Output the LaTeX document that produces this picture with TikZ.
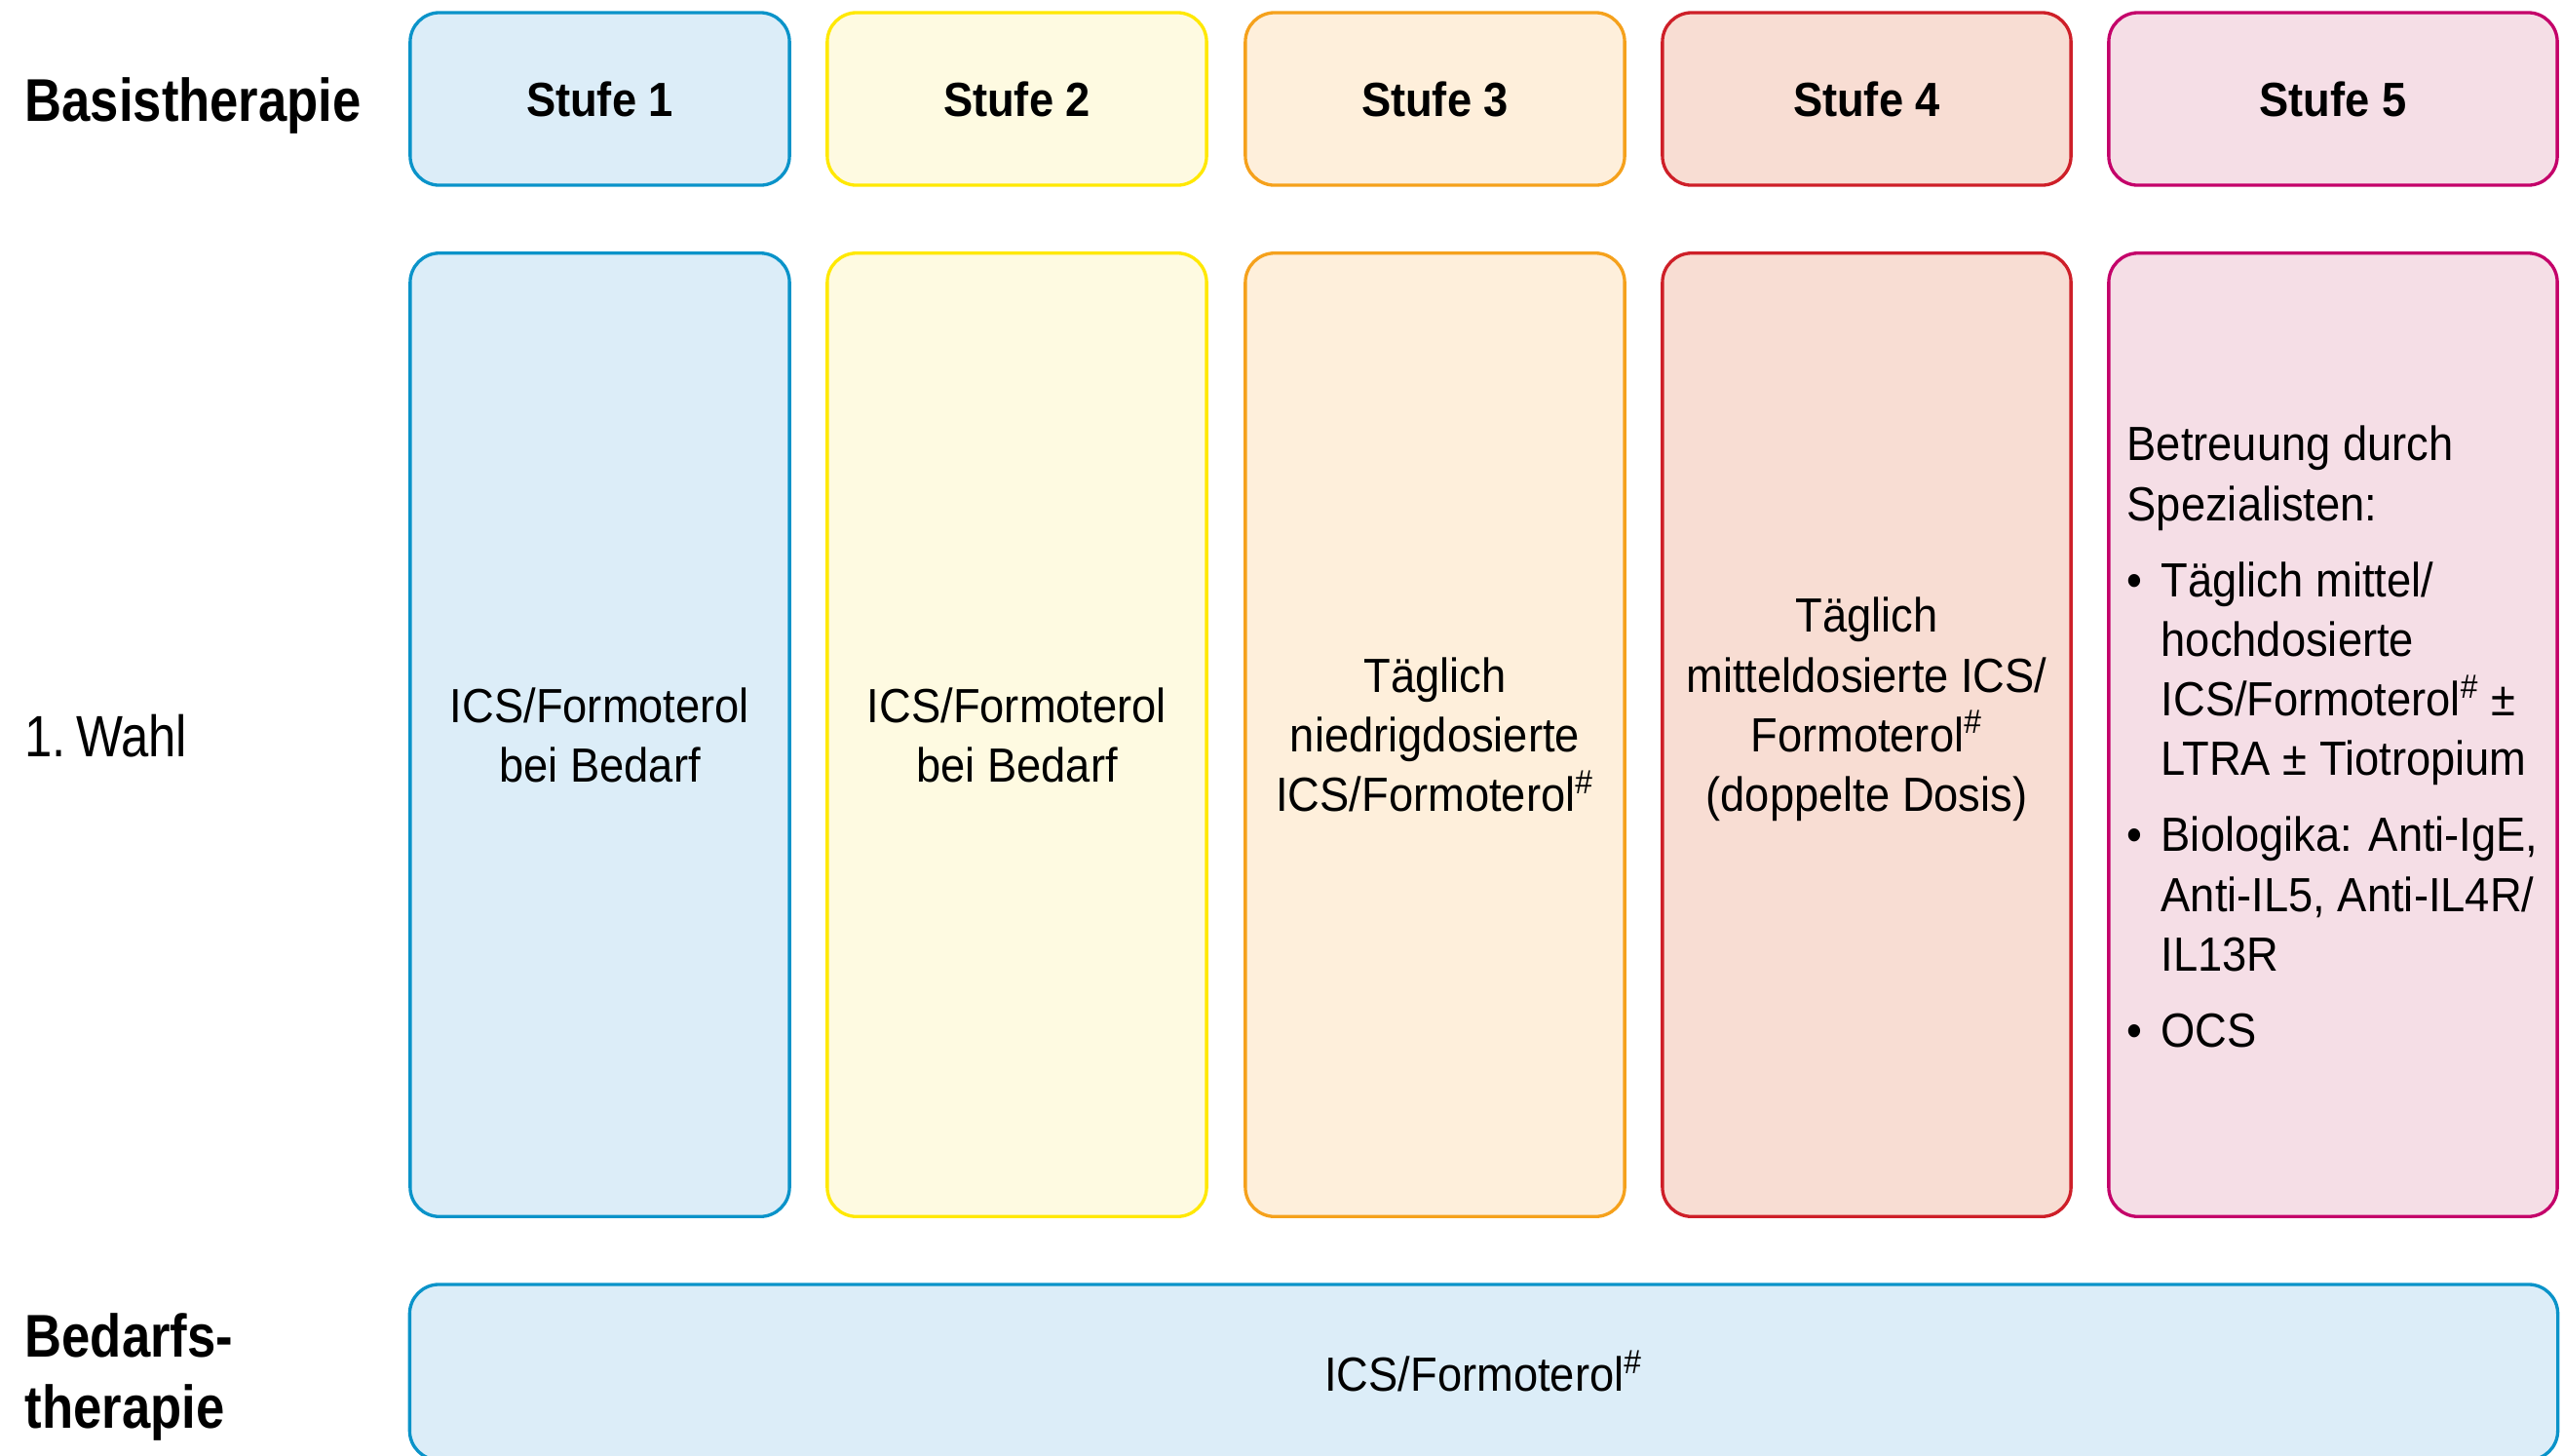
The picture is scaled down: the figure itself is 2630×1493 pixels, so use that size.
\documentclass[tikz,border=0pt]{standalone}
\usepackage{fontspec}
\setmainfont[FakeStretch=0.92]{Liberation Sans}
\newfontfamily\rowfont[FakeStretch=0.85]{Liberation Sans}
\definecolor{blueline}{HTML}{0A93C9}
\definecolor{bluefill}{HTML}{DCEDF8}
\definecolor{yellowline}{HTML}{FFE800}
\definecolor{yellowfill}{HTML}{FEFAE1}
\definecolor{orangeline}{HTML}{F5A11C}
\definecolor{orangefill}{HTML}{FEEFDB}
\definecolor{redline}{HTML}{CE1F28}
\definecolor{redfill}{HTML}{F8DDD3}
\definecolor{pinkline}{HTML}{C4006A}
\definecolor{pinkfill}{HTML}{F5DEE6}
\newcommand{\hashsup}{\textsuperscript{\#}}
\newcommand{\bulletcol}{\makebox[0.35cm][l]{•}}
\newcommand{\indentcol}{\hspace*{0.35cm}}
\begin{document}
\begin{tikzpicture}[x=0.01cm,y=-0.01cm,
  panel/.style={draw, line width=0.95pt, rounded corners=0.3cm, inner sep=0pt},
  s1/.style={panel, draw=blueline, fill=bluefill},
  s2/.style={panel, draw=yellowline, fill=yellowfill},
  s3/.style={panel, draw=orangeline, fill=orangefill},
  s4/.style={panel, draw=redline, fill=redfill},
  s5/.style={panel, draw=pinkline, fill=pinkfill},
  head/.style={minimum height=1.77cm, font=\fontsize{14}{17}\selectfont\bfseries},
  body/.style={minimum height=9.88cm},
  txt/.style={font=\fontsize{14}{17.4}\selectfont, align=center, inner sep=0pt},
  rowlabel/.style={font=\rowfont\fontsize{17.6}{20.5}\selectfont\bfseries, align=left, inner sep=0pt, anchor=base west}
]
\useasboundingbox (0,0) rectangle (2630,1493);

% row labels
\node[rowlabel] (lbasis) at (25,124) {Basistherapie};
\node[font=\rowfont\fontsize{17}{20}\selectfont, inner sep=0pt, anchor=west] (lwahl) at (25,755) {1.\,Wahl};
\node[rowlabel] (lbedarf) at (25,1465) {Bedarfs-\\therapie};

% header row
\node[s1, head, minimum width=3.89cm] (h1) at (615.5,101.5) {Stufe 1};
\node[s2, head, minimum width=3.89cm] (h2) at (1043.5,101.5) {Stufe 2};
\node[s3, head, minimum width=3.89cm] (h3) at (1472.5,101.5) {Stufe 3};
\node[s4, head, minimum width=4.19cm] (h4) at (1915.5,101.5) {Stufe 4};
\node[s5, head, minimum width=4.60cm] (h5) at (2394,101.5) {Stufe 5};

% first-choice row
\node[s1, body, minimum width=3.89cm] (b1) at (615.5,754) {};
\node[s2, body, minimum width=3.89cm] (b2) at (1043.5,754) {};
\node[s3, body, minimum width=3.89cm] (b3) at (1472.5,754) {};
\node[s4, body, minimum width=4.19cm] (b4) at (1915.5,754) {};
\node[s5, body, minimum width=4.60cm] (b5) at (2394,754) {};

\node[txt] (t1) at (b1.center) {ICS/Formoterol\\bei Bedarf};
\node[txt] (t2) at (b2.center) {ICS/Formoterol\\bei Bedarf};
\node[txt] (t3) at (b3.center) {Täglich\\niedrigdosierte\\ICS/Formoterol\hashsup};
\node[txt] (t4) at (1915.5,728) {Täglich\\mitteldosierte ICS/\\Formoterol\hashsup\\(doppelte Dosis)};
\node[txt, align=left, anchor=west] (t5) at (2182,756) {%
  Betreuung durch\\
  Spezialisten:\\[4.8pt]
  \bulletcol Täglich mittel/\\
  \indentcol hochdosierte\\
  \indentcol ICS/Formoterol\hashsup{} ±\\
  \indentcol LTRA ± Tiotropium\\[4.8pt]
  \bulletcol Biologika: Anti-IgE,\\
  \indentcol Anti-IL5, Anti-IL4R/\\
  \indentcol IL13R\\[4.8pt]
  \bulletcol OCS};

% reliever row
\node[s1, minimum width=22.03cm, minimum height=1.80cm] (rel) at (1522.5,1408) {};
\node[txt] (trel) at (1522.5,1407) {ICS/Formoterol\hashsup};
\end{tikzpicture}
\end{document}
